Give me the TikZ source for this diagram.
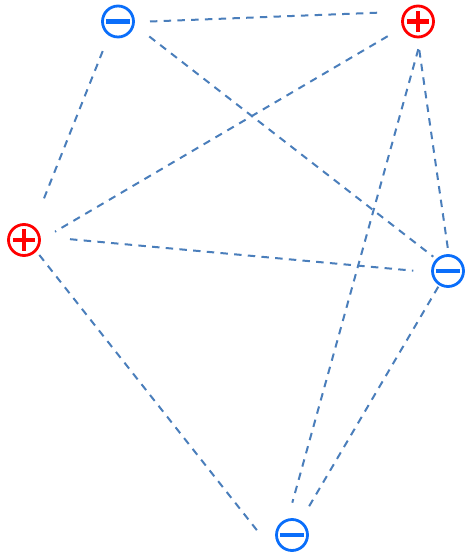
\documentclass[tikz,border=0pt]{standalone}
\usetikzlibrary{calc}
\definecolor{posred}{RGB}{255,0,0}
\definecolor{negblue}{RGB}{10,110,250}
\definecolor{edgeblue}{RGB}{74,126,187}
\tikzset{
  ion/.style={circle, draw=#1, line width=2.1pt, minimum size=23.25pt, inner sep=0pt},
  minusion/.style={ion=negblue,
    path picture={\draw[negblue, line width=3.4pt]
      ([xshift=-9pt]path picture bounding box.center) -- ([xshift=9pt]path picture bounding box.center);}},
  plusion/.style={ion=posred,
    path picture={\draw[posred, line width=3.4pt]
      ([xshift=-8.3pt]path picture bounding box.center) -- ([xshift=8.3pt]path picture bounding box.center)
      ([yshift=-8pt]path picture bounding box.center) -- ([yshift=8pt]path picture bounding box.center);}},
  edge/.style={draw=edgeblue, line width=1.5pt, dash pattern=on 5.6pt off 4.7pt}
}
\begin{document}
\begin{tikzpicture}[x=0.75pt, y=-0.75pt]
\useasboundingbox (0,0) rectangle (465,555);
% nodes
\node[minusion] (A) at (118,21.5) {};
\node[plusion]  (B) at (418,21.5) {};
\node[plusion]  (C) at (24,240) {};
\node[minusion] (D) at (448,271) {};
\node[minusion] (E) at (292,535) {};
% connectors
\draw[edge] ($(A.center)+(0:32)$) -- ($(B.center)+(194.3:36.4)$);
\draw[edge] ($(A.center)+(117.3:33.3)$) -- ($(C.center)+(296.1:41.5)$);
\draw[edge] ($(A.center)+(25.6:34.7)$) -- ($(D.center)+(224.2:20.5)$);
\draw[edge] ($(B.center)+(154.1:33.7)$) -- ($(C.center)+(345:32.1)$);
\draw[edge] ($(B.center)+(89.4:27.7)$) -- ($(E.center)+(270.5:32.3)$);
\draw[edge] ($(B.center)+(87.4:28.7)$) -- ($(D.center)+(270.9:19.3)$);
\draw[edge] ($(C.center)+(359:46)$) -- ($(D.center)+(180.5:34.7)$);
\draw[edge] ($(C.center)+(44.4:21.4)$) -- ($(E.center)+(180:31.3)$);
\draw[edge] ($(D.center)+(121.7:18.5)$) -- ($(E.center)+(300.8:29.9)$);
\end{tikzpicture}
\end{document}
